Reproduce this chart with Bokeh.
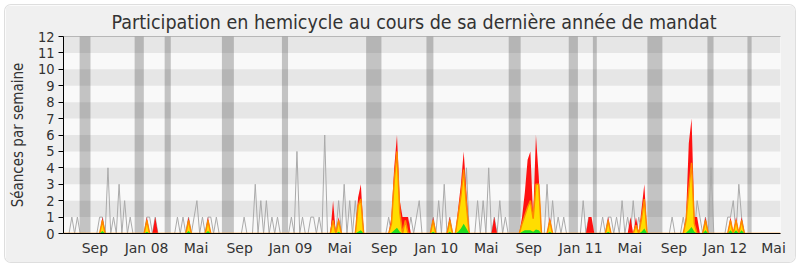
import numpy as np
from bokeh.plotting import figure
from bokeh.models import Range1d, FixedTicker, Span
from bokeh.embed import file_html
from bokeh.resources import INLINE

N_WEEKS = 259

# Median presence (grey line): week index -> sessions
gray_weeks = [3, 5, 13, 14, 16, 18, 20, 22, 24, 30, 31, 33, 41, 43, 45, 47, 48, 50, 52, 53, 55,
              65, 69, 71, 73, 75, 77,
              82, 84, 86, 89, 90, 92, 94, 97, 99, 101, 103, 105, 107,
              117, 119, 120, 123, 125, 127, 128,
              133, 135, 137, 139, 143, 145, 149, 151, 153, 155, 157, 159,
              166, 168, 170, 174, 176, 178, 180,
              187, 189, 194, 196, 197, 199, 201, 203, 205, 207, 209,
              219, 223, 226, 228, 229, 231, 233, 239, 240, 241, 243, 244]
gray_vals = [1, 1, 1, 1, 4, 1, 3, 2, 1, 1, 1, 1, 1, 1, 1, 1, 2, 1, 1, 1, 1,
             1, 3, 2, 2, 1, 1,
             1, 5, 1, 1, 1, 1, 6, 1, 2, 3, 2, 2, 2,
             1, 3, 4, 1, 1, 1, 2,
             1, 2, 3, 1, 2, 4, 2, 2, 4, 1, 2, 1,
             1, 2, 3, 3, 2, 1, 1,
             2, 1, 1, 1, 1, 1, 2, 1, 2, 1, 1,
             1, 1, 1, 2, 1, 1, 4, 1, 1, 2, 3, 1]

# Deputy's own activity (coloured areas)
col_weeks = [14, 30, 33, 45, 52, 97, 99, 106, 107, 118, 119, 120, 121, 122, 123, 124,
             133, 139, 142, 143, 144, 145, 155, 165, 166, 167, 168, 169, 170, 171, 175,
             189, 190, 196, 204, 206, 208, 209, 224, 225, 226, 227, 228, 231, 240, 242, 244]
red_vals = [1, 1, 1, 1, 1, 2, 1, 2.2, 3, 1, 4, 6, 2, 1, 1, 1,
            1, 1, 1.5, 3, 5, 2.5, 1, 1, 2.5, 4.5, 5, 1, 6, 3.5, 1,
            1, 1, 1, 1, 1, 1.5, 3, 1, 5.5, 7, 1, 1, 1, 1, 1, 1]
yellow_vals = [0.8, 0.8, 0, 0.8, 0.8, 0.8, 0.8, 1.7, 2.1, 0.6, 3.2, 5, 1.3, 0, 0.8, 0,
               0.8, 0.8, 1.1, 2.3, 3.9, 1.7, 0, 0.6, 1.1, 1.6, 2, 0.9, 3, 3, 0.8,
               0, 0, 0.8, 0, 0.5, 0.9, 2.1, 0.8, 2.7, 4.3, 0.6, 0, 0.8, 0.8, 0.8, 0.8]
green_vals = [0.15, 0.1, 0, 0.15, 0.15, 0.05, 0.1, 0.1, 0.2, 0.05, 0.2, 0.35, 0.1, 0, 0, 0,
              0.1, 0.1, 0.1, 0.3, 0.6, 0.3, 0, 0.1, 0.2, 0.2, 0.2, 0.1, 0.25, 0.2, 0.1,
              0, 0, 0.1, 0, 0, 0.1, 0.3, 0.05, 0.2, 0.4, 0.1, 0, 0.2, 0.2, 0.2, 0.2]

# Parliamentary holidays (week ranges)
vac_start = [5.8, 25.6, 36.4, 57.0, 78.6, 108.9, 130.6, 160.2, 181.8, 190.5, 210.1, 231.7, 246.1]
vac_end = [9.7, 28.9, 38.6, 61.3, 80.8, 114.4, 133.1, 164.5, 185.1, 191.9, 215.5, 233.9, 247.6]

tick_weeks = [11.3, 29.9, 47.7, 63.4, 81.7, 99.4, 115.4, 134.1, 152.1, 167.4, 186.1, 203.8, 219.7, 238.1, 255.5]
tick_labels = ["Sep", "Jan 08", "Mai", "Sep", "Jan 09", "Mai", "Sep", "Jan 10", "Mai",
               "Sep", "Jan 11", "Mai", "Sep", "Jan 12", "Mai"]

Y_MAX = 12


def dense(weeks, vals):
    arr = np.zeros(N_WEEKS)
    for w, v in zip(weeks, vals):
        arr[w] = v
    return arr


x = np.arange(N_WEEKS)
gray = dense(gray_weeks, gray_vals)
red = dense(col_weeks, red_vals)
yellow = dense(col_weeks, yellow_vals)
green = dense(col_weeks, green_vals)

p = figure(width=790, height=257, output_backend="svg", toolbar_location=None,
           x_range=Range1d(0, N_WEEKS - 1), y_range=Range1d(0, Y_MAX),
           title="Participation en hemicycle au cours de sa dernière année de mandat",
           min_border_left=57, min_border_right=15, min_border_top=31, min_border_bottom=29)
p.margin = (5, 5, 5, 5)
p.styles = {"border-radius": "6px", "overflow": "hidden", "box-shadow": "0 0 0 1px #dedede"}
p.background_fill_color = "#f9f9f9"
p.border_fill_color = "#f0f0f0"
p.outline_line_color = None
p.grid.visible = False

p.title.align = "left"
p.title.offset = 48
p.title.standoff = 5
p.title.text_font = "DejaVu Sans Condensed"
p.title.text_font_size = "19.5px"
p.title.text_font_style = "normal"
p.title.text_color = "#333333"

# alternating horizontal bands
band_bottoms = list(range(1, Y_MAX, 2))
p.quad(left=0, right=N_WEEKS - 1, bottom=band_bottoms, top=[b + 1 for b in band_bottoms],
       fill_color="#e6e6e6", line_color=None)

# holidays
p.quad(left=vac_start, right=vac_end, bottom=0, top=Y_MAX,
       fill_color="#444444", fill_alpha=0.3, line_color=None)

p.line(x, gray, line_color="#aaaaaa", line_width=1)
p.varea(x=x, y1=0, y2=red, fill_color="#ff1111")
p.varea(x=x, y1=0, y2=yellow, fill_color="#ffdd00")
p.line(x, yellow, line_color="#ff8800", line_width=1.5)
p.varea(x=x, y1=0, y2=green, fill_color="#22dd22")

p.add_layout(Span(location=Y_MAX, dimension="width", line_color="black",
                  line_dash="1 1", line_width=1))

p.yaxis.ticker = FixedTicker(ticks=list(range(0, Y_MAX + 1)))
p.yaxis.axis_label = "Séances par semaine"
p.yaxis.axis_label_text_font = "DejaVu Sans Condensed"
p.yaxis.axis_label_text_font_size = "15px"
p.yaxis.axis_label_text_font_style = "normal"
p.yaxis.axis_label_text_color = "#333333"
p.yaxis.axis_label_standoff = 8
p.yaxis.major_label_text_font = "DejaVu Sans Condensed"
p.yaxis.major_label_text_font_size = "14.5px"
p.yaxis.major_label_text_color = "#333333"
p.yaxis.major_tick_out = 5
p.yaxis.major_tick_in = 0
p.yaxis.minor_tick_out = 0
p.yaxis.minor_tick_in = 0
p.yaxis.axis_line_color = "black"
p.yaxis.major_label_standoff = 4

p.xaxis.ticker = FixedTicker(ticks=tick_weeks)
p.xaxis.major_label_overrides = {t: l for t, l in zip(tick_weeks, tick_labels)}
p.xaxis.major_label_text_font = "DejaVu Sans"
p.xaxis.major_label_text_font_size = "14px"
p.xaxis.major_label_text_color = "#333333"
p.xaxis.major_tick_out = 0
p.xaxis.major_tick_in = 0
p.xaxis.minor_tick_out = 0
p.xaxis.minor_tick_in = 0
p.xaxis.axis_line_color = "black"
p.xaxis.major_label_standoff = 6

open("out.html", "w").write(file_html(p, INLINE))
